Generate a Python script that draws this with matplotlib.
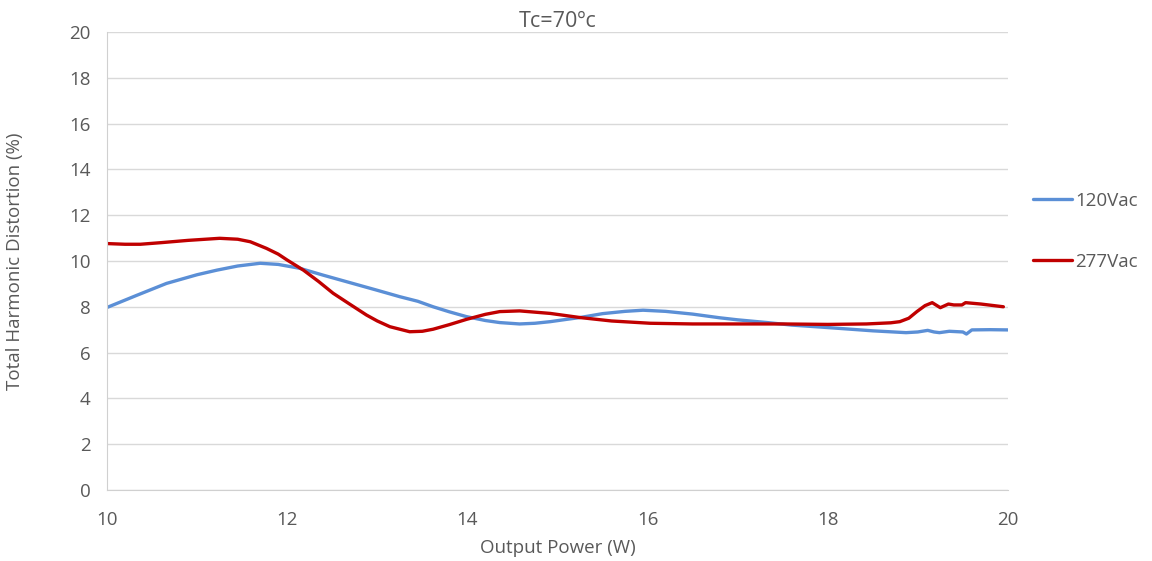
import matplotlib
matplotlib.use("Agg")
import matplotlib.pyplot as plt

# values (Excel smoothed lines)
x_120 = [10.0, 10.33, 10.66, 11.0, 11.22, 11.45, 11.7, 11.9, 12.14, 12.4, 12.7, 13.0,
         13.25, 13.45, 13.62, 13.8, 13.99, 14.2, 14.36, 14.58, 14.75, 14.92, 15.1,
         15.25, 15.5, 15.75, 15.95, 16.2, 16.5, 16.8, 17.0, 17.33, 17.6, 17.9, 18.15,
         18.5, 18.87, 19.0, 19.11, 19.18, 19.24, 19.35, 19.5, 19.54, 19.6, 19.8, 20.0]
thd_120 = [7.97, 8.5, 9.02, 9.4, 9.6, 9.78, 9.9, 9.85, 9.68, 9.38, 9.05, 8.72,
           8.44, 8.24, 8.0, 7.78, 7.57, 7.4, 7.31, 7.25, 7.28, 7.35, 7.45,
           7.53, 7.7, 7.8, 7.85, 7.8, 7.68, 7.52, 7.43, 7.31, 7.2, 7.12, 7.05,
           6.95, 6.87, 6.9, 6.97, 6.9, 6.87, 6.93, 6.9, 6.81, 6.99, 7.0, 6.99]

x_277 = [10.0, 10.2, 10.37, 10.6, 10.9, 11.25, 11.45, 11.59, 11.77, 11.9, 12.0, 12.18,
         12.35, 12.51, 12.7, 12.88, 13.0, 13.14, 13.36, 13.5, 13.62, 13.8, 13.99,
         14.2, 14.36, 14.58, 14.92, 15.25, 15.6, 16.03, 16.5, 17.0, 17.5, 18.0,
         18.43, 18.7, 18.8, 18.9, 18.99, 19.08, 19.16, 19.25, 19.34, 19.4, 19.49,
         19.53, 19.7, 19.95]
thd_277 = [10.76, 10.73, 10.73, 10.8, 10.9, 10.99, 10.95, 10.84, 10.55, 10.3, 10.04, 9.6,
           9.1, 8.59, 8.1, 7.64, 7.38, 7.13, 6.91, 6.93, 7.02, 7.22, 7.45,
           7.67, 7.79, 7.82, 7.71, 7.53, 7.38, 7.28, 7.25, 7.25, 7.25, 7.23,
           7.25, 7.3, 7.35, 7.5, 7.79, 8.05, 8.18, 7.96, 8.12, 8.08, 8.08,
           8.18, 8.12, 8.0]

plt.rcParams['font.family'] = ['Open Sans', 'DejaVu Sans']
txt = '#595959'

fig = plt.figure(figsize=(11.52, 5.61), dpi=100)
ax = fig.add_axes([0.0929, 0.1266, 0.782, 0.8164])

ax.plot(x_120, thd_120, color='#5B8FD6', lw=2.4, label='120Vac', solid_capstyle='round')
ax.plot(x_277, thd_277, color='#C00000', lw=2.4, label='277Vac', solid_capstyle='round')

ax.set_xlim(10, 20)
ax.set_ylim(0, 20)
ax.set_xticks(range(10, 21, 2))
ax.set_yticks(range(0, 21, 2))
ax.grid(axis='y', color='#D9D9D9', lw=1)
ax.set_axisbelow(True)
ax.tick_params(length=0, labelsize=13.5, colors=txt)
ax.tick_params(axis='x', pad=15)
ax.tick_params(axis='y', pad=12)
for s in ['top', 'right']:
    ax.spines[s].set_visible(False)
for s in ['left', 'bottom']:
    ax.spines[s].set_color('#D0D0D0')

ax.set_xlabel('Output Power (W)', fontsize=13.5, color=txt, va='center')
ax.set_ylabel('Total Harmonic Distortion (%)', fontsize=13.5, color=txt, va='center')
ax.xaxis.set_label_coords(0.5, -0.127)
ax.yaxis.set_label_coords(-0.102, 0.5)
ax.set_title('Tc=70ºc', fontsize=15.5, color=txt, pad=3)

fig.legend(loc='center left', bbox_to_anchor=(0.882, 0.5875), frameon=False,
           fontsize=13.5, labelcolor=txt, handlelength=2.1, handletextpad=0.15,
           labelspacing=2.3)

fig.savefig('out.png', dpi=100)
